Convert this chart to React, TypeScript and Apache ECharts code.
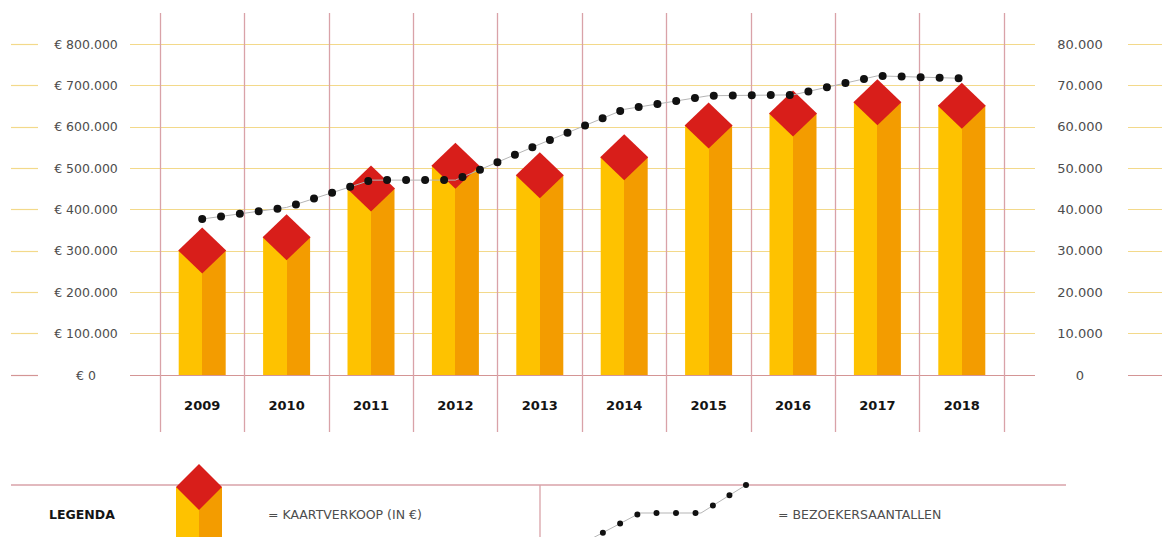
import React, { useEffect, useRef } from "react";
import * as echarts from "echarts";

const years = ["2009", "2010", "2011", "2012", "2013", "2014", "2015", "2016", "2017", "2018"];
const ticketSales = [301000, 333000, 451000, 506000, 483000, 526000, 603000, 632000, 659000, 651000];
const visitors = [37700, 40500, 47100, 47100, 55800, 64200, 67500, 67700, 72300, 71700];
const leftTickMax = 800000;
const leftTickStep = 100000;
const rightTickMax = 80000;
const rightTickStep = 10000;
const legendTitle = "LEGENDA";
const legendSales = "= KAARTVERKOOP (IN €)";
const legendVisitors = "= BEZOEKERSAANTALLEN";

const YELLOW = "#FEC200";
const ORANGE = "#F39C00";
const RED = "#D81E1A";
const GRID_YELLOW = "#F3D98A";
const PINK = "#D9A2A8";
const ZERO = "#D49595";
const LABEL = "#4d4d4d";
const FONT = "DejaVu Sans";

const fmt = (v: number) => String(v).replace(/\B(?=(\d{3})+(?!\d))/g, ".");

const hLineColors = [ZERO, GRID_YELLOW, GRID_YELLOW, GRID_YELLOW, GRID_YELLOW, GRID_YELLOW, GRID_YELLOW, GRID_YELLOW, GRID_YELLOW];

export default function App() {
  const ref = useRef<HTMLDivElement>(null);
  useEffect(() => {
    if (!ref.current) return;
    const chart = echarts.init(ref.current, undefined, { renderer: "svg" });
    const bgY = (gridIndex: number) => ({
      type: "value",
      gridIndex,
      min: 0,
      max: leftTickMax,
      interval: leftTickStep,
      axisLine: { show: false },
      axisTick: { show: false },
      axisLabel: { show: false },
      splitLine: { show: true, lineStyle: { color: hLineColors, width: 1.2 } },
    });
    const bgX = (gridIndex: number) => ({
      type: "category",
      gridIndex,
      data: years,
      show: false,
    });
    const option: any = {
      animation: false,
      backgroundColor: "#fff",
      grid: [
        { left: 160, right: 158, top: 44, bottom: 162 },
        { left: 11, width: 27, top: 44, bottom: 162 },
        { left: 130, width: 905, top: 44, bottom: 162 },
        { left: 1128, right: 0, top: 44, bottom: 162 },
        { left: 160, right: 158, top: 13, bottom: 105 },
      ],
      xAxis: [
        {
          type: "category",
          gridIndex: 0,
          data: years,
          axisLine: { show: false },
          axisTick: { show: false },
          splitLine: { show: false },
          axisLabel: {
            margin: 30,
            verticalAlign: "middle",
            color: "#141414",
            fontWeight: "bold",
            fontSize: 13,
            fontFamily: FONT,
          },
        },
        bgX(1),
        bgX(2),
        bgX(3),
        {
          type: "category",
          gridIndex: 4,
          data: years,
          axisLine: { show: false },
          axisTick: { show: false },
          axisLabel: { show: false },
          splitLine: { show: true, lineStyle: { color: PINK, width: 1.3 } },
        },
      ],
      yAxis: [
        {
          type: "value",
          gridIndex: 0,
          min: 0,
          max: leftTickMax,
          interval: leftTickStep,
          axisLine: { show: false },
          axisTick: { show: false },
          splitLine: { show: false },
          axisLabel: {
            formatter: (v: number) => "€ " + fmt(v),
            align: "center",
            margin: 74,
            color: LABEL,
            fontSize: 12.5,
            fontFamily: FONT,
          },
        },
        {
          type: "value",
          gridIndex: 0,
          position: "right",
          min: 0,
          max: rightTickMax,
          interval: rightTickStep,
          axisLine: { show: false },
          axisTick: { show: false },
          splitLine: { show: false },
          axisLabel: {
            formatter: (v: number) => fmt(v),
            align: "center",
            margin: 76,
            color: LABEL,
            fontSize: 13,
            fontFamily: FONT,
          },
        },
        bgY(1),
        bgY(2),
        bgY(3),
        { type: "value", gridIndex: 4, show: false, min: 0, max: 1 },
      ],
      series: [
        {
          type: "bar",
          xAxisIndex: 0,
          yAxisIndex: 0,
          data: ticketSales,
          barWidth: 47,
          z: 2,
          itemStyle: {
            color: new echarts.graphic.LinearGradient(0, 0, 1, 0, [
              { offset: 0, color: YELLOW },
              { offset: 0.5, color: YELLOW },
              { offset: 0.5, color: ORANGE },
              { offset: 1, color: ORANGE },
            ]),
          },
        },
        {
          type: "scatter",
          xAxisIndex: 0,
          yAxisIndex: 0,
          data: ticketSales,
          symbol: "diamond",
          symbolSize: [48, 46],
          z: 3,
          itemStyle: { color: RED, opacity: 1 },
        },
        {
          type: "line",
          xAxisIndex: 0,
          yAxisIndex: 1,
          data: visitors,
          symbol: "none",
          z: 4,
          lineStyle: { color: "#b5b5b5", width: 1 },
        },
        {
          type: "line",
          xAxisIndex: 0,
          yAxisIndex: 1,
          data: visitors,
          symbol: "none",
          z: 5,
          lineStyle: { color: "#111", width: 8, type: [0, 19.0], cap: "round" },
        },
      ],
      graphic: [
        { type: "line", shape: { x1: 11, y1: 485, x2: 1066, y2: 485 }, style: { stroke: PINK, lineWidth: 1.5 }, z: 1 },
        { type: "line", shape: { x1: 540, y1: 485, x2: 540, y2: 537 }, style: { stroke: PINK, lineWidth: 1.3 }, z: 1 },
        {
          type: "text",
          x: 49,
          y: 514,
          style: { text: legendTitle, fill: "#141414", font: `bold 12.5px '${FONT}'`, verticalAlign: "middle" },
        },
        { type: "rect", shape: { x: 176, y: 487, width: 23, height: 50 }, style: { fill: YELLOW }, z: 2 },
        { type: "rect", shape: { x: 199, y: 487, width: 23, height: 50 }, style: { fill: ORANGE }, z: 2 },
        {
          type: "polygon",
          shape: { points: [[199, 464], [222, 487], [199, 510], [176, 487]] },
          style: { fill: RED },
          z: 3,
        },
        {
          type: "text",
          x: 268,
          y: 514,
          style: { text: legendSales, fill: LABEL, font: `12.5px '${FONT}'`, verticalAlign: "middle" },
        },
        {
          type: "polyline",
          shape: { points: [[589, 540], [640, 513], [701, 513], [746, 485]] },
          style: { stroke: "#b5b5b5", lineWidth: 1, fill: null },
          z: 3,
        },
        {
          type: "polyline",
          shape: { points: [[746, 485], [701, 513], [640, 513], [589, 540]] },
          style: { stroke: "#111", lineWidth: 6, lineDash: [0, 19.5], lineCap: "round", fill: null },
          z: 4,
        },
        {
          type: "text",
          x: 778,
          y: 514,
          style: { text: legendVisitors, fill: LABEL, font: `12.5px '${FONT}'`, verticalAlign: "middle" },
        },
      ],
    };
    chart.setOption(option);
    return () => chart.dispose();
  }, []);
  return (
    <div
      ref={ref}
      style={{ position: "fixed", left: 0, top: 0, width: 1162, height: 537, background: "#fff" }}
    />
  );
}
